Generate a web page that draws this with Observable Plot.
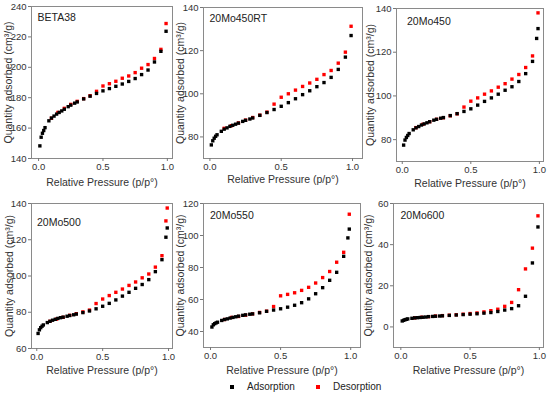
<!DOCTYPE html>
<html><head><meta charset="utf-8">
<script src="https://cdn.jsdelivr.net/npm/d3@7"></script>
<script src="https://cdn.jsdelivr.net/npm/@observablehq/plot@0.6"></script>
<style>
body{margin:0;background:#fff;font-family:"Liberation Sans",Arial,sans-serif;}
#root{position:relative;width:550px;height:394px;overflow:hidden;background:#fff;}
.panel{position:absolute;}
.legend{position:absolute;left:0;top:380px;width:550px;height:14px;font-size:10px;color:#222;}
.sw{position:absolute;width:4px;height:4px;top:5px;}
.lt{position:absolute;top:0;line-height:14px;}
</style></head><body><div id="root"></div>
<script>
// ---- data ----
const P_ADS  = [0.01,0.02,0.03,0.04,0.05,0.08,0.10,0.12,0.14,0.16,0.18,0.20,0.23,0.25,0.28,0.30,0.35,0.40,0.45,0.50,0.55,0.60,0.65,0.70,0.75,0.80,0.85,0.90,0.95,0.99];
const P_ADS2 = [0.01,0.02,0.03,0.04,0.05,0.08,0.10,0.12,0.14,0.16,0.18,0.20,0.23,0.25,0.28,0.30,0.35,0.40,0.45,0.50,0.55,0.60,0.65,0.70,0.75,0.80,0.85,0.90,0.95,0.98,0.99];
const P_DES  = [0.99,0.95,0.90,0.85,0.80,0.75,0.70,0.65,0.60,0.55,0.50,0.45,0.40,0.35,0.30,0.25,0.20,0.15,0.10];
const P_DES2 = [0.99,0.98,0.95,0.90,0.85,0.80,0.75,0.70,0.65,0.60,0.55,0.50,0.45,0.40,0.35,0.30,0.25,0.20,0.15,0.10];

const SAMPLES = ["BETA38","20Mo450RT","20Mo450","20Mo500","20Mo550","20Mo600"];

const beta38Ads = [148.3,154.0,156.6,158.4,160.3,164.8,166.6,167.9,169.2,170.3,171.3,172.4,174.1,175.1,176.4,177.2,179.2,181.0,182.8,184.5,186.0,187.5,189.0,190.7,192.6,195.2,198.2,203.5,210.5,223.7];
const beta38Des = [228.8,211.8,205.8,201.8,199.4,196.5,194.3,192.8,190.8,189.2,187.7,184.2,181.3,179.4,177.6,175.6,173.0,170.3,166.5];

const mo450rtAds = [76.3,78.2,79.4,80.3,81.0,82.6,83.6,84.2,84.9,85.4,85.9,86.4,87.2,87.7,88.3,88.8,90.0,91.3,92.7,94.2,95.9,97.7,99.6,101.4,103.3,105.2,107.6,111.3,117.0,127.0];
const mo450rtDes = [131.3,119.3,114.2,110.8,108.9,106.7,105.0,103.4,101.7,100.0,98.4,95.2,91.5,90.1,89.0,87.8,86.5,85.2,84.0];

const mo450Ads = [77.5,79.8,81.0,81.9,82.8,84.5,85.4,86.0,86.7,87.2,87.7,88.2,88.9,89.3,89.8,90.1,91.0,91.9,92.9,94.1,95.8,97.5,99.1,100.8,102.6,104.2,106.6,110.2,115.8,126.3,130.8];
const mo450Des = [138.0,118.3,113.0,109.8,107.7,105.6,104.0,102.3,100.8,99.1,97.6,94.9,91.8,90.9,90.0,89.3,88.2,87.0,85.5];

const mo500Ads = [68.3,70.3,71.5,72.3,73.0,74.3,75.0,75.6,76.1,76.6,77.0,77.3,77.8,78.2,78.6,79.0,79.8,80.7,81.9,83.3,84.9,86.8,88.9,91.0,93.2,95.3,98.0,102.4,109.0,121.4,126.5];
const mo500Des = [137.5,130.4,111.2,104.9,101.1,99.0,96.7,94.8,92.8,91.0,89.2,87.3,84.8,81.2,80.2,79.2,78.3,77.2,76.2,75.0];

const mo550Ads = [42.8,44.2,44.9,45.4,45.8,46.9,47.5,47.9,48.4,48.8,49.2,49.6,50.1,50.4,50.8,51.0,51.7,52.6,53.4,54.2,55.2,56.4,58.0,60.4,63.6,67.4,72.0,77.0,87.0,98.5,104.0];
const mo550Des = [113.3,89.5,83.3,77.5,73.7,70.3,67.6,65.7,64.2,63.2,62.3,55.6,52.7,51.9,51.0,50.2,49.4,48.8,47.5];

const mo600Ads = [2.9,3.2,3.5,3.7,3.9,4.2,4.4,4.5,4.6,4.7,4.8,5.0,5.1,5.2,5.3,5.4,5.6,5.8,6.0,6.2,6.4,6.7,7.0,7.5,8.2,8.9,10.3,14.9,31.1,48.6];
const mo600Des = [54.0,38.3,28.2,18.1,11.9,10.0,8.6,7.9,7.3,6.8,6.5,6.2,5.9,5.7,5.5,5.3,5.0,4.7,4.4];

const X_TICKS = [0, 0.5, 1.0];
const Y_TICKS = [[140,160,180,200,220,240],[80,100,120,140],[80,100,120,140],[60,80,100,120,140],[40,60,80,100,120],[0,20,40,60]];
const Y_DOMAINS = [[140,240],[70,140],[70,140],[60,140],[30,120],[-10,60]];

const X_LABEL = "Relative Pressure (p/p°)";
const Y_LABEL = "Quantity adsorbed (cm³/g)";
const LEGEND = ["Adsorption","Desorption"];
const COLORS = ["#000000","#ff0000"];

// ---- layout (page pixels) ----
const LAYOUT = [
  {box:[0,0,182,190],   frame:[31,6,172,158],    xdom:[-0.055,1.04], ylab:8,   xlabY:182, title:[6,7]},
  {box:[172,0,193,190], frame:[203,7,362,158],   xdom:[-0.045,1.07], ylab:180, xlabY:179, title:[6,7.5]},
  {box:[362,0,188,190], frame:[396,8,543,161],   xdom:[-0.042,1.03], ylab:370, xlabY:183, title:[10.5,9]},
  {box:[0,192,182,184], frame:[31,203,172,348],  xdom:[-0.04,1.03],  ylab:9,   xlabY:370, title:[5.5,15.5]},
  {box:[172,192,193,184],frame:[203,203,360,347],xdom:[-0.05,1.07],  ylab:180, xlabY:370, title:[6.5,8]},
  {box:[362,192,188,184],frame:[393,203,543,347],xdom:[-0.053,1.03], ylab:368, xlabY:370, title:[7,8]}
];
const SERIES = [
  [P_ADS, beta38Ads, P_DES, beta38Des],
  [P_ADS, mo450rtAds, P_DES, mo450rtDes],
  [P_ADS2, mo450Ads, P_DES, mo450Des],
  [P_ADS2, mo500Ads, P_DES2, mo500Des],
  [P_ADS2, mo550Ads, P_DES, mo550Des],
  [P_ADS, mo600Ads, P_DES, mo600Des]
];

const root = document.getElementById("root");
const FONT = '"Liberation Sans", Arial, sans-serif';

SAMPLES.forEach((name, i) => {
  const L = LAYOUT[i];
  const [bx,by,bw,bh] = L.box;
  const [fl,ft,fr,fb] = L.frame;
  const [pa, qa, pd, qd] = SERIES[i];
  const ads = pa.map((p,j) => ({p, q: qa[j]}));
  const des = pd.map((p,j) => ({p, q: qd[j]}));
  const svg = Plot.plot({
    width: bw, height: bh,
    marginLeft: fl-bx, marginTop: ft-by, marginRight: bx+bw-fr, marginBottom: by+bh-fb,
    style: {background:"transparent", fontFamily: FONT, color:"#333"},
    x: {domain: L.xdom},
    y: {domain: Y_DOMAINS[i]},
    marks: [
      Plot.frame({stroke:"#8a8a8a", strokeWidth:1}),
      Plot.axisX({ticks: X_TICKS, tickFormat: d3.format(".1f"), tickSize:3, tickPadding:2, stroke:"#777", fill:"#333", fontSize:9.5, label:null}),
      Plot.axisY({ticks: Y_TICKS[i], tickFormat: d3.format("d"), tickSize:3, tickPadding:2, stroke:"#777", fill:"#333", fontSize:9.5, label:null}),
      Plot.text([X_LABEL], {text: d=>d, frameAnchor:"bottom", dy: L.xlabY - fb, lineAnchor:"middle", textAnchor:"middle", fontSize:10.5, fill:"#333"}),
      Plot.text([Y_LABEL], {text: d=>d, frameAnchor:"left", dx: L.ylab - fl, rotate:-90, lineAnchor:"middle", textAnchor:"middle", fontSize:10.5, fill:"#333"}),
      Plot.text([name], {text: d=>d, frameAnchor:"top-left", dx: L.title[0], dy: L.title[1], lineAnchor:"top", textAnchor:"start", fontSize:10.5, fill:"#222"}),
      Plot.dot(des, {x:"p", y:"q", symbol:"square", r:1.9, fill: COLORS[1], stroke:"none"}),
      Plot.dot(ads, {x:"p", y:"q", symbol:"square", r:1.9, fill: COLORS[0], stroke:"none"})
    ]
  });
  const div = document.createElement("div");
  div.className = "panel";
  div.style.left = bx+"px"; div.style.top = by+"px";
  div.appendChild(svg);
  root.appendChild(div);
});

// legend
const leg = document.createElement("div");
leg.className = "legend";
const SW_X = [230, 316], TX_X = [247, 333];
LEGEND.forEach((t,i) => {
  const s = document.createElement("div"); s.className="sw"; s.style.left=SW_X[i]+"px"; s.style.background=COLORS[i]; leg.appendChild(s);
  const l = document.createElement("div"); l.className="lt"; l.style.left=TX_X[i]+"px"; l.textContent=t; leg.appendChild(l);
});
root.appendChild(leg);
</script>
</body></html>
